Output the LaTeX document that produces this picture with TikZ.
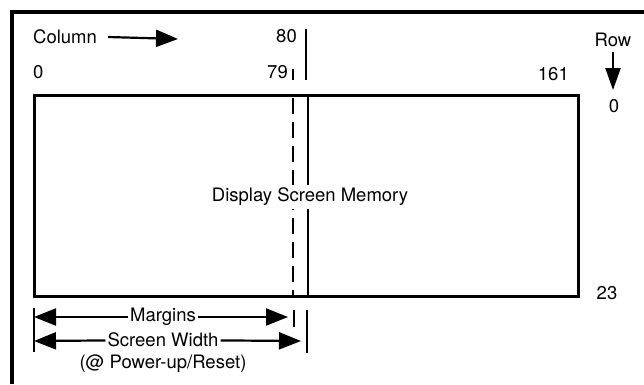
\documentclass[tikz,border=0pt]{standalone}
\usepackage{fontspec}
\setmainfont{TeX Gyre Heros}
\usetikzlibrary{arrows.meta}
\tikzset{
  lbl/.style={font=\fontsize{18.5}{22}\selectfont, inner sep=1pt},
  gaplbl/.style={lbl, fill=white, inner sep=3pt},
  bigarrow/.style={-{Triangle[length=22pt,width=17pt]}, line width=2.2pt},
  bar/.style={line width=2.5pt},
  frameline/.style={line width=3.5pt}
}

\begin{document}
\begin{tikzpicture}[x=1pt, y=-1pt]
  \useasboundingbox (0,0) rectangle (644,384);
  % Frame
  \draw[frameline] (12,384) -- (12,12) -- (644,12);
  % Column numbering
  \node[lbl, anchor=west] (col) at (32,37) {Column};
  \coordinate (colend) at (178,39);
  \draw[bigarrow] ([xshift=10pt]col.east) -- (colend);
  \node[lbl, anchor=east] (c80) at (298,36) {80};
  \node[lbl, anchor=west] (c0) at (32,72) {0};
  \node[lbl, anchor=east] (c79) at (289,72) {79};
  \node[lbl, anchor=east] (c161) at (570,74) {161};
  \draw[bar] (306,29) -- (306,80);
  \draw[bar] (293,69) -- (293,80);
  % Row numbering
  \node[lbl] (row) at (613,40) {Row};
  \coordinate (rowend) at (613,90);
  \draw[-{Triangle[length=22pt,width=15pt]}, line width=2.2pt]
    ([yshift=-4pt]row.south) -- (rowend);
  \node[lbl] (r0) at (614,106) {0};
  \node[lbl] (r23) at (607,293) {23};
  % Screen memory
  \draw[line width=3pt] (34,95) rectangle (578,296);
  \draw[line width=2.5pt, dash pattern=on 16pt off 8pt] (293,98) -- (293,296);
  \draw[line width=2.5pt] (308,95) -- (308,296);
  \node[gaplbl] (dsm) at (310,197) {Display Screen Memory};
  % Margins / screen width
  \draw[bar] (34,308) -- (34,352);
  \draw[bar] (294,310) -- (294,327);
  \draw[bar] (307,310) -- (307,353);
  \node[lbl, inner sep=2pt] (marg) at (163,317) {Margins};
  \coordinate (margL) at (34,317);
  \coordinate (margR) at (288,317);
  \draw[bigarrow] (marg) -- (margL);
  \draw[bigarrow] (marg) -- (margR);
  \node[lbl, inner sep=2pt] (sw) at (163,340) {Screen Width};
  \coordinate (swL) at (34,341);
  \coordinate (swR) at (301,341);
  \draw[bigarrow] (sw) -- (swL);
  \draw[bigarrow] (sw) -- (swR);
  \node[lbl] (pwr) at (163,364) {(@ Power-up/Reset)};
\end{tikzpicture}
\end{document}
